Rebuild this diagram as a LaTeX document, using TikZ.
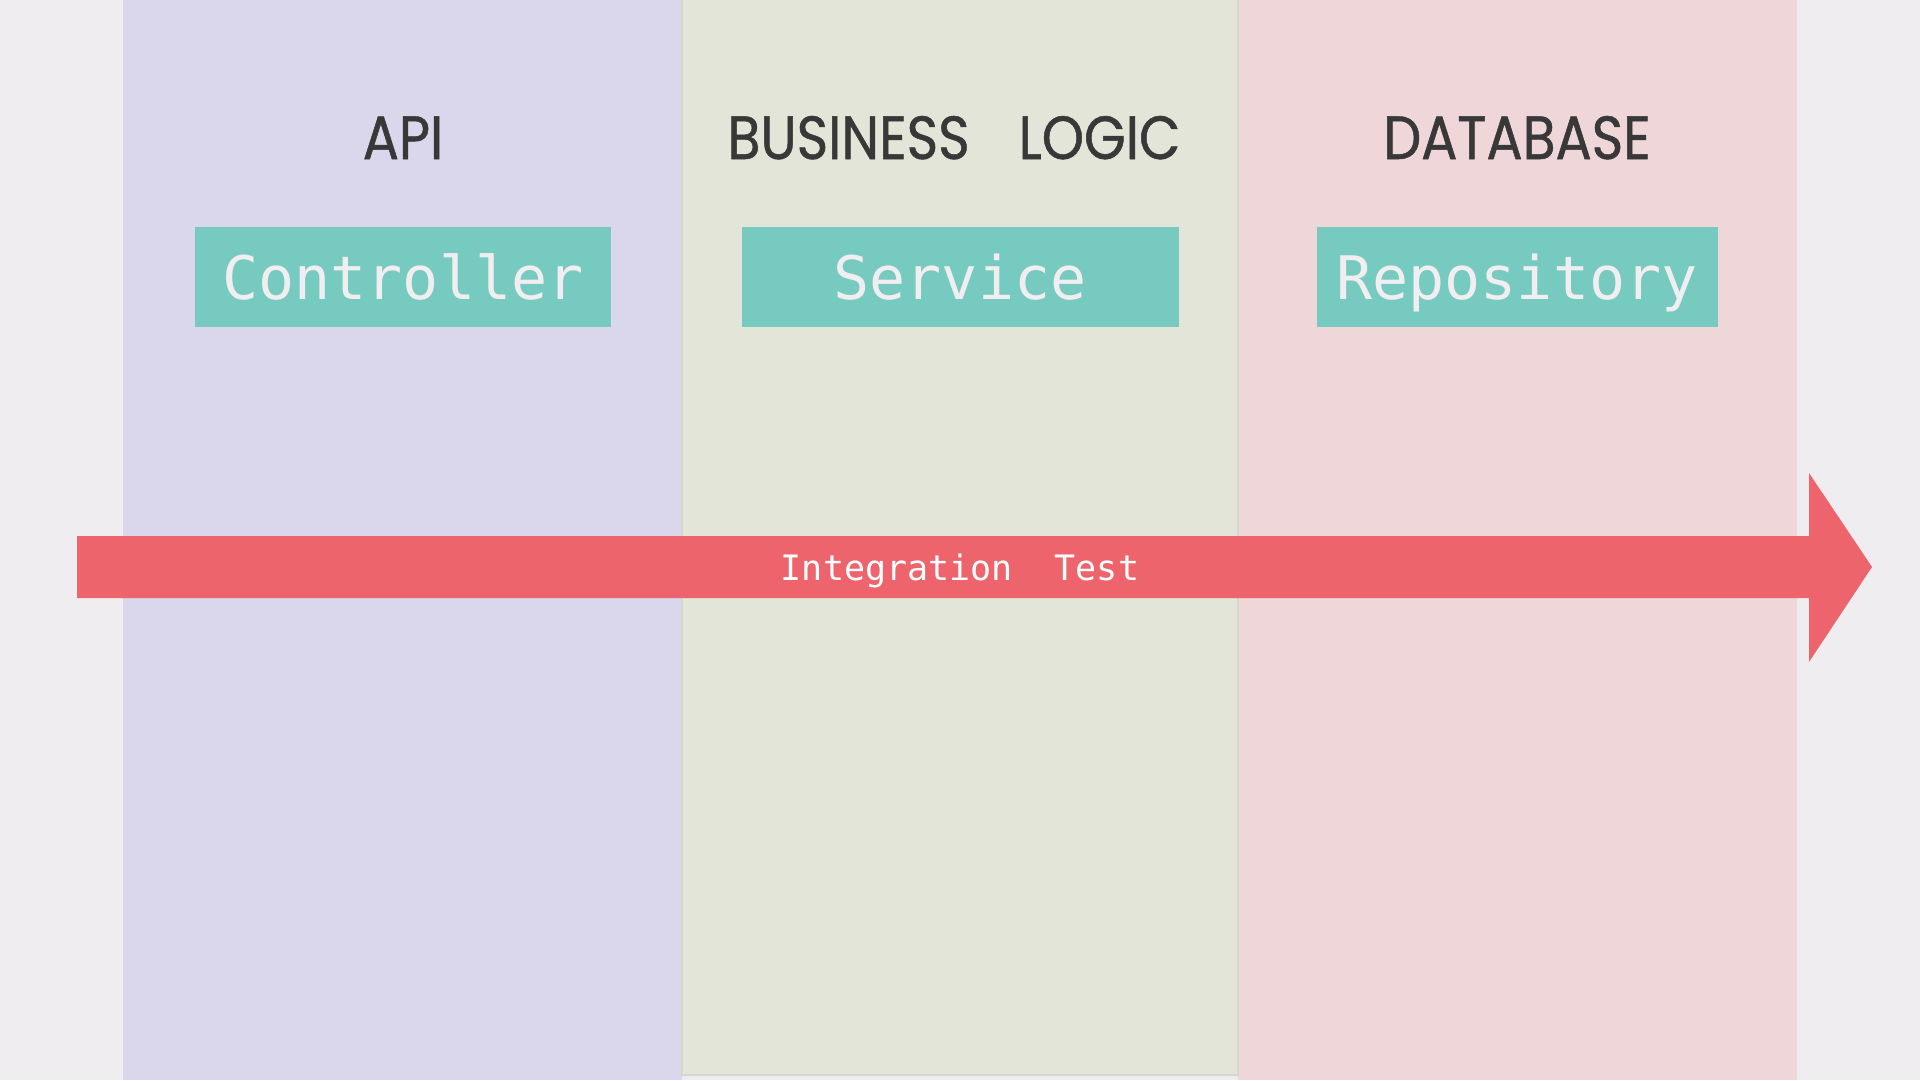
\documentclass[tikz,border=0pt]{standalone}
\usepackage{fontspec}
\usepackage{tikz}
\usepackage{xcolor}

\newfontfamily\headfont[FakeStretch=0.88, FakeBold=0.8]{Poppins}
\newfontfamily\codefont{DejaVu Sans Mono}

\definecolor{pagebg}{HTML}{EFEDF0}
\definecolor{apicol}{HTML}{DAD6EC}
\definecolor{logiccol}{HTML}{E3E5D8}
\definecolor{logicedge}{HTML}{D6D7D0}
\definecolor{dbcol}{HTML}{EFD6D9}
\definecolor{headgray}{HTML}{383838}
\definecolor{boxteal}{HTML}{76CABF}
\definecolor{boxtext}{HTML}{F0EEF0}
\definecolor{testred}{HTML}{ED646C}

\begin{document}
\begin{tikzpicture}[x=1pt,y=-1pt,
	  layer/.style={anchor=base, inner sep=0pt, text=headgray,
	    font=\headfont\fontsize{61}{70}\selectfont},
	  unit/.style={fill=boxteal, text=boxtext, inner sep=0pt,
	    text height=45.6pt, text depth=0pt,
	    minimum height=100pt, font=\codefont\fontsize{60}{70}\selectfont}]

	  \fill[pagebg] (0,0) rectangle (1920,1080);
	  \useasboundingbox (0,0) rectangle (1920,1080);

	  % the three layers
	  \fill[apicol] (123,0) rectangle (682,1080);
	  \fill[dbcol] (1238,0) rectangle (1797,1080);
	  \filldraw[fill=logiccol, draw=logicedge, line width=1.5pt] (682,-2) rectangle (1238,1075);

	  \node[layer] (api) at (403,159) {API};
	  \node[layer] (logic) at (954,159) {BUSINESS\hspace{49pt}LOGIC};
	  \node[layer] (db) at (1517,159) {DATABASE};

	  \node[unit, minimum width=416pt] (controller) at (403,277) {Controller};
	  \node[unit, minimum width=437pt] (service) at (960,277) {Service};
	  \node[unit, minimum width=401pt] (repository) at (1517,277) {Repository};

	  % the test arrow
	  \fill[testred] (77,536) -- (1809,536) -- (1809,473) -- (1872,567)
	    -- (1809,662) -- (1809,598) -- (77,598) -- cycle;
	  \node[anchor=base, inner sep=0pt, text=white,
	    font=\codefont\fontsize{35}{40}\selectfont] (itest) at (960,580) {Integration\ \ Test};
	\end{tikzpicture}
\end{document}
